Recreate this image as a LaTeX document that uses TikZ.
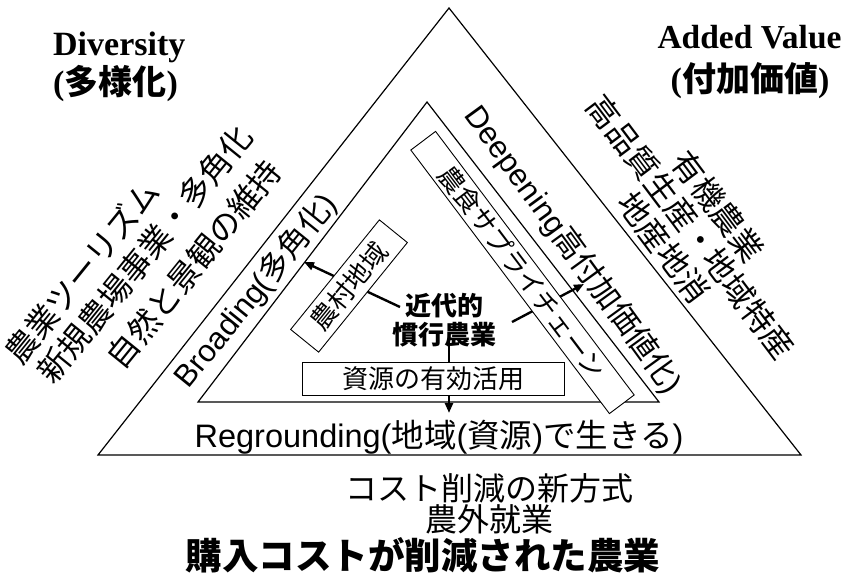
\documentclass[tikz,border=0pt]{standalone}
\usepackage{fontspec}
\setmainfont{Liberation Sans}
\newfontfamily\jp{Noto Sans CJK JP}
\newfontfamily\tnr{Liberation Serif}
\usetikzlibrary{arrows.meta}
\begin{document}
\begin{tikzpicture}[x=1pt,y=-1pt,
  tri/.style={line width=1.2pt,line join=miter},
  arr/.style={line width=2.4pt,-{Triangle[length=10pt,width=8pt]}},
  lbox/.style={draw,line width=0.9pt,fill=white,inner sep=0pt,font=\jp\fontsize{26}{28}\selectfont},
  side/.style={inner sep=0pt,font=\jp\fontsize{32}{34}\selectfont},
  band/.style={inner sep=0pt,font=\fontsize{31}{34}\selectfont},
  head/.style={inner sep=0pt,font=\tnr\bfseries\fontsize{34}{36}\selectfont},
  plain/.style={inner sep=0pt,font=\jp\fontsize{32}{34}\selectfont}
]
\useasboundingbox (0,0) rectangle (848,573);
\fill[white] (0,0) rectangle (848,573);

% triangles
\coordinate (oA) at (449,8);
\coordinate (oL) at (98,455);
\coordinate (oR) at (801,455);
\coordinate (iA) at (427,102);
\coordinate (iL) at (198,402);
\coordinate (iR) at (659,402);
\draw[tri] (oA) -- (oL) -- (oR) -- cycle;
\draw[tri] (iA) -- (iL) -- (iR) -- cycle;

% arrows
\coordinate (a1s) at (400,307);
\coordinate (a1e) at (304,262);
\coordinate (a2s) at (512,322);
\coordinate (a2e) at (584,284);
\coordinate (a3s) at (449,338);
\coordinate (a3e) at (449,413);
\draw[arr] (a1s) -- (a1e);
\draw[arr] (a2s) -- (a2e);
\draw[arr] (a3s) -- (a3e);

% boxes
\node[lbox,rotate=51,minimum width=141pt,minimum height=36pt] (noson) at (349,286) {農村地域};
\node[lbox,rotate=-53,minimum width=330pt,minimum height=31pt] (supply) at (522.5,272.5) {農食サプライチェーン};
\node[lbox,minimum width=262pt,minimum height=33pt] (shigen) at (433,378.5) {資源の有効活用};

% centre
\node[inner sep=0pt,align=center,font=\jp\bfseries\fontsize{26}{29}\selectfont] (modern) at (444,320) {近代的\\慣行農業};

% band labels
\node[band,rotate=51] (broad) at (256,291) {Broading({\jp 多角化})};
\node[band,rotate=-54] (deep) at (573,250) {Deepening{\jp 高付加価値化})};
\node[band,anchor=base,font=\fontsize{32.5}{34}\selectfont] (reground) at (439,447) {Regrounding({\jp 地域}({\jp 資源}){\jp で生きる})};

% headings
\node[head,anchor=base west] (div1) at (53,55) {Diversity};
\node[head,anchor=base west] (div2) at (53,94) {({\jp\bfseries 多様化})};
\node[head,anchor=base,font=\tnr\bfseries\fontsize{33.5}{36}\selectfont] (add1) at (749.5,48) {Added Value};
\node[head,anchor=base] (add2) at (750,91) {({\jp\bfseries 付加価値})};

% side texts
\node[side,rotate=51] (l1) at (82,272) {農業ツーリズム};
\node[side,rotate=51] (l2) at (145,254) {新規農場事業・多角化};
\node[side,rotate=51] (l3) at (194,264) {自然と景観の維持};
\node[side,rotate=-53,align=center,font=\jp\fontsize{32}{34}\selectfont] (right) at (691,227) {有機農業\\高品質生産・地域特産\\地産地消};

% bottom texts
\node[plain] (cost1) at (489,488) {コスト削減の新方式};
\node[plain] (cost2) at (489,519) {農外就業};
\node[inner sep=0pt,font=\jp\bfseries\fontsize{36.5}{38}\selectfont] (cost3) at (423,555) {購入コストが削減された農業};
\end{tikzpicture}
\end{document}
